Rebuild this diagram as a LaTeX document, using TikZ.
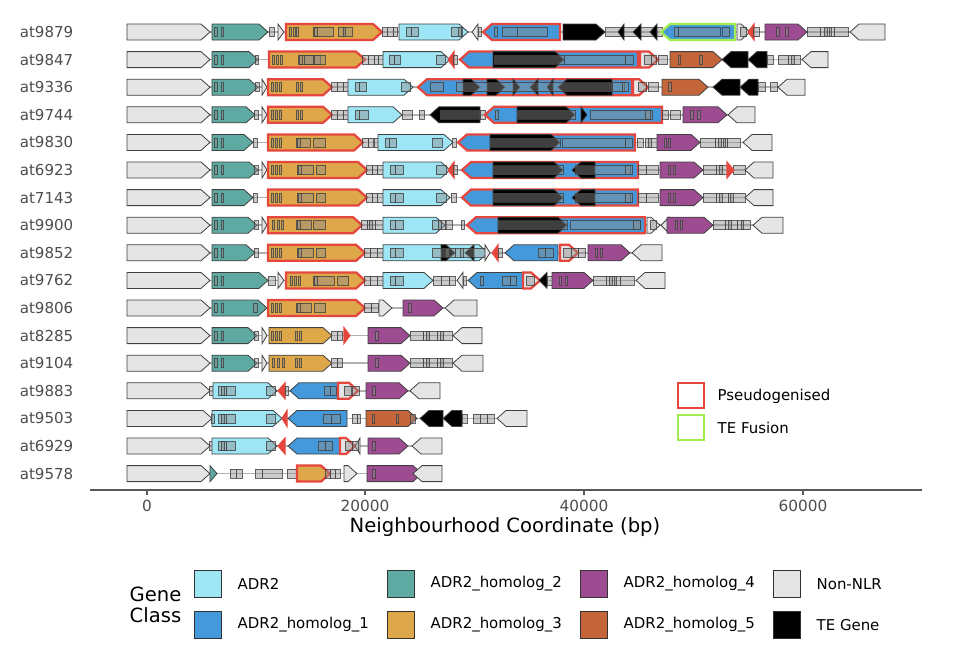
\documentclass[tikz,border=0pt]{standalone}
\usepackage{fontspec}
\setmainfont{DejaVu Sans}
\definecolor{adr}{HTML}{9EE5F5}
\definecolor{hA}{HTML}{4399DA}
\definecolor{hB}{HTML}{5EA9A2}
\definecolor{hC}{HTML}{DDA74A}
\definecolor{hD}{HTML}{9E4C91}
\definecolor{hE}{HTML}{C4663A}
\definecolor{nn}{HTML}{E5E5E5}
\definecolor{pred}{HTML}{E5473E}
\definecolor{tgreen}{HTML}{A3EC50}
\definecolor{axgrey}{HTML}{4D4D4D}
\tikzset{
 gene/.style={draw=black!75, line width=0.6pt, line join=miter},
 pseudo/.style={draw=pred, line width=1.7pt},
 tefus/.style={draw=tgreen, line width=1.7pt},
 tiny/.style={fill=pred, draw=pred, line width=0.8pt},
 te/.style={fill=black},
 dom/.style={draw=black!75, draw opacity=0.8, fill=black!45, fill opacity=0.45, line width=0.45pt},
 link/.style={draw=black!30, line width=1.1pt},
 rowlab/.style={anchor=east, text=axgrey, font=\fontsize{11.3}{13}\selectfont},
 ticklab/.style={text=axgrey, font=\fontsize{11.5}{13}\selectfont},
 legtxt/.style={anchor=west, text=black, font=\fontsize{11.2}{13}\selectfont},
 legbox/.style={draw=black!80, line width=0.6pt},
}
\newcommand\gR[3]{\pgfmathsetmacro\ghd{min(9,#2-#1)}\draw[gene,#3] (#1,\ry-8) -- ({#2-\ghd},\ry-8) -- (#2,\ry) -- ({#2-\ghd},\ry+8) -- (#1,\ry+8) -- cycle;}
\newcommand\gL[3]{\pgfmathsetmacro\ghd{min(9,#2-#1)}\draw[gene,#3] (#2,\ry-8) -- ({#1+\ghd},\ry-8) -- (#1,\ry) -- ({#1+\ghd},\ry+8) -- (#2,\ry+8) -- cycle;}
\newcommand\gdom[2]{\draw[dom] (#1,\ry-4.5) rectangle (#2,\ry+4.5);}
\newcommand\glink[2]{\draw[link] (#1,\ry) -- (#2,\ry);}
\newcommand\hCbars{\gdom{271}{273}\gdom{275}{277}\gdom{279}{281}}
\newcommand\hBdoms[1]{\gdom{214}{217}\gdom{221}{223}}
\begin{document}
\begin{tikzpicture}[x=0.75pt,y=-0.75pt]
\useasboundingbox (0,0) rectangle (958,658);
% ---------------- row 0 at9879
\def\ry{32}
\node[rowlab] (l0) at (78,\ry) {at9879};
\glink{127}{885}
\gR{127}{210}{fill=nn}
\gR{212}{268}{fill=hB}\hBdoms{}
\gdom{269}{274}
\gR{278}{284}{fill=nn}
\gR{286}{382}{fill=hC,pseudo}
\gdom{289}{291}\gdom{293}{295}\gdom{296}{298}\gdom{313}{333}\gdom{314}{317}\gdom{338}{352}\gdom{343}{345}
\gdom{382}{387}\gdom{387}{393}\gdom{393}{397}
\gR{399}{468}{fill=adr}
\gdom{406}{411}\gdom{411}{418}\gdom{451}{462}\gdom{458}{461}
\gL{472}{478}{fill=nn}
\gdom{478}{481}
\gL{483}{560}{fill=hA,pseudo}
\gdom{494}{497}\gdom{502}{517}\gdom{517}{547}
\gR{563}{605}{te}
\gdom{605}{662}
\gL{618}{624}{te}\gL{633}{641}{te}\gL{650}{657}{te}
\gL{661}{735}{fill=hA,tefus}
\gdom{674}{678}\gdom{678}{720}\gdom{722}{729}
\gR{737}{750}{fill=nn}\gdom{740}{746}
\gL{748}{754}{tiny}
\gdom{753}{759}
\gR{765}{807}{fill=hD}\gdom{776}{779}\gdom{785}{788}
\gdom{807}{820}\gdom{820}{834}\gdom{834}{848}\gdom{824}{827}\gdom{829}{831}
\gL{850}{885}{fill=nn}
% ---------------- row 1 at9847
\def\ry{59.6}
\node[rowlab] (l1) at (78,\ry) {at9847};
\glink{127}{828}
\gR{127}{210}{fill=nn}
\gR{212}{258}{fill=hB}\hBdoms{}\gdom{255}{258}
\gR{269}{365}{fill=hC,pseudo}
\gdom{272}{274}\gdom{276}{278}\gdom{280}{282}\gdom{298}{320}\gdom{299}{302}\gdom{304}{313}\gdom{314}{325}\gdom{362}{368}
\gdom{368}{374}\gdom{374}{378}\gdom{378}{383}
\gR{383}{450}{fill=adr}
\gdom{389}{394}\gdom{394}{400}\gdom{436}{445}
\gL{448}{454}{tiny}
\gdom{453}{457}
\gL{460}{638}{fill=hA,pseudo}
\gR{493}{564}{te}
\gdom{494}{564}\gdom{564}{625}\gdom{625}{633}
\gR{640}{658}{fill=nn,pseudo}\gdom{644}{651}\gdom{651}{656}
\gdom{658}{667}
\gR{670}{722}{fill=hE}\gdom{678}{680}\gdom{699}{702}
\gL{722}{748}{te}\gL{748}{767}{te}
\gdom{767}{773}\gdom{778}{788}\gdom{788}{800}\gdom{791}{794}
\gL{802}{828}{fill=nn}
% ---------------- row 2 at9336
\def\ry{87.2}
\node[rowlab] (l2) at (78,\ry) {at9336};
\glink{127}{805}
\gR{127}{210}{fill=nn}
\gR{212}{258}{fill=hB}\hBdoms{}\gdom{255}{259}
\gR{262}{267}{fill=nn}
\gR{268}{332}{fill=hC,pseudo}
\hCbars\gdom{296}{298}\gdom{300}{302}
\gdom{331}{337}\gdom{337}{343}\gdom{343}{348}
\gR{348}{413}{fill=adr}
\gdom{355}{359}\gdom{359}{366}\gdom{401}{410}
\gL{418}{632}{fill=hA,pseudo}
\gdom{430}{443}
\gR{463}{480}{te}\gR{487}{505}{te}\gR{513}{520}{te}\gL{530}{538}{te}\gL{547}{553}{te}\gL{558}{612}{te}
\gdom{456}{612}\gdom{612}{624}\gdom{622}{628}
\gR{633}{648}{fill=nn,pseudo}\gdom{638}{646}
\gdom{648}{658}
\gR{662}{708}{fill=hE}\gdom{668}{671}
\gL{713}{740}{te}\gL{740}{758}{te}
\gdom{758}{765}\gdom{770}{777}
\gL{778}{805}{fill=nn}
% ---------------- row 3 at9744
\def\ry{114.8}
\node[rowlab] (l3) at (78,\ry) {at9744};
\glink{127}{755}
\gR{127}{210}{fill=nn}
\gR{212}{255}{fill=hB}\hBdoms{}\gdom{254}{258}
\gR{262}{267}{fill=nn}
\gR{268}{332}{fill=hC,pseudo}
\hCbars\gdom{296}{298}\gdom{300}{302}
\gdom{331}{337}\gdom{337}{343}\gdom{343}{348}
\gR{348}{402}{fill=adr}
\gdom{355}{359}\gdom{359}{368}
\gdom{402}{412}\gdom{419}{424}
\gL{430}{480}{te}\gdom{440}{480}
\gdom{480}{485}
\gL{485}{662}{fill=hA,pseudo}
\gdom{495}{498}
\gR{517}{575}{te}\gdom{517}{575}
\gR{581}{587}{te}
\gdom{590}{652}\gdom{645}{650}
\gdom{662}{668}\gdom{670}{680}
\gR{683}{727}{fill=hD}\gdom{690}{693}\gdom{697}{700}
\gL{728}{755}{fill=nn}
% ---------------- row 4 at9830
\def\ry{142.4}
\node[rowlab] (l4) at (78,\ry) {at9830};
\glink{127}{772}
\gR{127}{210}{fill=nn}
\gR{212}{253}{fill=hB}\hBdoms{}\gdom{253}{257}
\gR{268}{363}{fill=hC,pseudo}
\hCbars\gdom{296}{310}\gdom{297}{300}\gdom{313}{325}
\gdom{362}{368}\gdom{368}{373}\gdom{374}{378}
\gR{378}{453}{fill=adr}
\gdom{385}{389}\gdom{389}{396}\gdom{432}{442}
\gdom{452}{456}
\gL{458}{635}{fill=hA,pseudo}
\gR{490}{560}{te}\gdom{490}{560}\gdom{562}{625}\gdom{625}{632}
\gdom{637}{643}\gdom{645}{657}\gdom{648}{651}
\gR{657}{700}{fill=hD}\gdom{664}{666}\gdom{668}{670}
\gdom{700}{715}\gdom{715}{727}\gdom{727}{740}\gdom{718}{721}\gdom{723}{725}
\gL{743}{772}{fill=nn}
% ---------------- row 5 at6923
\def\ry{170}
\node[rowlab] (l5) at (78,\ry) {at6923};
\glink{127}{773}
\gR{127}{210}{fill=nn}
\gR{212}{258}{fill=hB}\hBdoms{}\gdom{254}{258}
\gR{262}{267}{fill=nn}
\gR{268}{367}{fill=hC,pseudo}
\hCbars\gdom{297}{313}\gdom{298}{301}\gdom{316}{325}
\gdom{366}{372}\gdom{372}{377}\gdom{377}{383}
\gR{383}{450}{fill=adr}
\gdom{390}{395}\gdom{395}{403}\gdom{436}{446}
\gL{448}{454}{tiny}
\gdom{453}{457}
\gL{462}{638}{fill=hA,pseudo}
\gR{493}{563}{te}\gdom{493}{563}
\gL{572}{595}{te}\gdom{575}{630}\gdom{625}{632}
\gdom{638}{646}\gdom{646}{658}
\gR{660}{703}{fill=hD}\gdom{668}{670}\gdom{673}{675}
\gdom{703}{716}\gdom{716}{728}\gdom{733}{745}\gdom{719}{722}
\gR{727}{734}{tiny}
\gL{745}{773}{fill=nn}
% ---------------- row 6 at7143
\def\ry{197.6}
\node[rowlab] (l6) at (78,\ry) {at7143};
\glink{127}{773}
\gR{127}{210}{fill=nn}
\gR{212}{253}{fill=hB}\hBdoms{}\gdom{253}{257}
\gR{268}{367}{fill=hC,pseudo}
\hCbars\gdom{297}{313}\gdom{298}{301}\gdom{316}{325}
\gdom{366}{372}\gdom{372}{377}\gdom{377}{383}
\gR{383}{450}{fill=adr}
\gdom{390}{395}\gdom{395}{403}\gdom{436}{446}
\gdom{451}{456}
\gL{462}{638}{fill=hA,pseudo}
\gR{493}{563}{te}\gdom{493}{563}
\gL{572}{595}{te}\gdom{575}{630}\gdom{625}{632}
\gdom{638}{646}\gdom{646}{658}
\gR{660}{703}{fill=hD}\gdom{668}{670}\gdom{673}{675}
\gdom{703}{716}\gdom{716}{728}\gdom{728}{745}\gdom{719}{722}\gdom{730}{733}
\gL{745}{773}{fill=nn}
% ---------------- row 7 at9900
\def\ry{225.2}
\node[rowlab] (l7) at (78,\ry) {at9900};
\glink{127}{783}
\gR{127}{210}{fill=nn}
\gR{212}{257}{fill=hB}\hBdoms{}\gdom{254}{258}
\gR{262}{267}{fill=nn}
\gR{268}{362}{fill=hC,pseudo}
\gdom{272}{274}\gdom{277}{279}\gdom{281}{283}\gdom{296}{311}\gdom{297}{300}\gdom{313}{325}
\gdom{361}{367}\gdom{367}{375}\gdom{375}{383}\gdom{369}{372}
\gR{383}{445}{fill=adr}
\gdom{390}{395}\gdom{395}{403}\gdom{432}{446}\gdom{438}{441}
\gdom{445}{452}\gdom{461}{464}
\gL{467}{645}{fill=hA,pseudo}
\gR{498}{567}{te}\gdom{498}{567}\gdom{570}{640}\gdom{633}{640}
\gR{647}{660}{fill=nn}\gdom{650}{656}
\gL{661}{669}{fill=nn}
\gR{667}{713}{fill=hD}\gdom{675}{677}\gdom{680}{682}
\gdom{713}{725}\gdom{725}{737}\gdom{737}{750}\gdom{728}{731}\gdom{741}{743}
\gL{753}{783}{fill=nn}
% ---------------- row 8 at9852
\def\ry{252.8}
\node[rowlab] (l8) at (78,\ry) {at9852};
\glink{127}{662}
\gR{127}{210}{fill=nn}
\gR{212}{255}{fill=hB}\hBdoms{}\gdom{254}{258}
\gR{268}{365}{fill=hC,pseudo}
\hCbars\gdom{297}{313}\gdom{298}{301}\gdom{316}{325}
\gdom{364}{370}\gdom{370}{377}\gdom{377}{383}
\gR{383}{488}{fill=adr}
\gdom{390}{395}\gdom{395}{403}
\gR{441}{455}{te}\gL{465}{474}{te}
\gdom{432}{455}\gdom{455}{470}\gdom{470}{485}\gdom{445}{449}\gdom{460}{463}
\gR{485}{490}{fill=nn}
\gL{492}{498}{tiny}
\gdom{498}{502}
\gL{505}{558}{fill=hA}
\gdom{538}{545}\gdom{545}{553}
\gR{560}{578}{fill=nn,pseudo}\gdom{563}{571}\gdom{571}{578}
\gdom{578}{585}
\gR{588}{630}{fill=hD}\gdom{595}{597}\gdom{600}{602}
\gL{632}{662}{fill=nn}
% ---------------- row 9 at9762
\def\ry{280.4}
\node[rowlab] (l9) at (78,\ry) {at9762};
\glink{127}{665}
\gR{127}{210}{fill=nn}
\gR{212}{268}{fill=hB}\hBdoms{}
\gdom{268}{275}
\gR{278}{284}{fill=nn}
\gR{286}{365}{fill=hC,pseudo}
\gdom{290}{292}\gdom{294}{296}\gdom{298}{300}\gdom{313}{334}\gdom{314}{317}\gdom{337}{348}
\gdom{364}{370}\gdom{370}{377}\gdom{377}{383}
\gR{383}{433}{fill=adr}
\gdom{390}{395}\gdom{395}{403}
\gdom{433}{441}\gdom{441}{449}\gdom{449}{455}
\gL{457}{463}{fill=nn}
\gdom{463}{466}
\gL{468}{523}{fill=hA}
\gdom{480}{483}\gdom{502}{510}\gdom{510}{516}
\gR{523}{540}{fill=nn,pseudo}\gdom{526}{534}
\gL{539}{547}{te}
\gdom{547}{553}
\gR{552}{593}{fill=hD}\gdom{559}{561}\gdom{565}{567}
\gdom{593}{606}\gdom{606}{620}\gdom{620}{634}\gdom{609}{612}\gdom{614}{616}
\gL{636}{665}{fill=nn}
% ---------------- row 10 at9806
\def\ry{308}
\node[rowlab] (l10) at (78,\ry) {at9806};
\glink{127}{477}
\gR{127}{210}{fill=nn}
\gR{212}{267}{fill=hB}\hBdoms{}\gdom{253}{257}
\gR{268}{365}{fill=hC,pseudo}
\hCbars\gdom{296}{311}\gdom{297}{300}\gdom{314}{325}
\gdom{364}{371}\gdom{371}{378}
\gR{379}{392}{fill=nn}
\gR{403}{443}{fill=hD}\gdom{408}{411}
\gL{445}{477}{fill=nn}
% ---------------- row 11 at8285
\def\ry{335.6}
\node[rowlab] (l11) at (78,\ry) {at8285};
\glink{127}{482}
\gR{127}{210}{fill=nn}
\gR{212}{257}{fill=hB}\hBdoms{}\gdom{254}{258}
\gR{262}{267}{fill=nn}
\gR{269}{332}{fill=hC}
\hCbars\gdom{295}{297}\gdom{299}{301}
\gdom{331}{337}\gdom{337}{342}
\gR{344}{350}{tiny}
\gR{368}{410}{fill=hD}\gdom{375}{378}
\gdom{410}{423}\gdom{423}{437}\gdom{437}{452}\gdom{426}{429}\gdom{440}{443}
\gL{453}{482}{fill=nn}
% ---------------- row 12 at9104
\def\ry{363.2}
\node[rowlab] (l12) at (78,\ry) {at9104};
\glink{127}{483}
\gR{127}{210}{fill=nn}
\gR{212}{257}{fill=hB}\hBdoms{}\gdom{254}{258}
\gR{262}{267}{fill=nn}
\gR{269}{332}{fill=hC}
\gdom{272}{274}\gdom{277}{279}\gdom{282}{284}\gdom{295}{297}\gdom{299}{301}
\gdom{331}{337}\gdom{337}{342}
\gR{368}{410}{fill=hD}\gdom{375}{378}
\gdom{410}{423}\gdom{423}{437}\gdom{437}{452}\gdom{426}{429}\gdom{440}{443}
\gL{453}{483}{fill=nn}
% ---------------- row 13 at9883
\def\ry{390.8}
\node[rowlab] (l13) at (78,\ry) {at9883};
\glink{127}{440}
\gR{127}{210}{fill=nn}
\gdom{209}{214}
\gR{213}{277}{fill=adr}
\gdom{218}{226}\gdom{226}{235}\gdom{221}{224}\gdom{266}{275}
\gL{278}{285}{tiny}
\gdom{285}{288}
\gL{290}{338}{fill=hA}
\gdom{324}{330}\gdom{330}{336}
\gR{338}{358}{fill=nn,pseudo}\gdom{344}{351}\gdom{352}{359}
\gR{366}{408}{fill=hD}\gdom{372}{375}
\gL{410}{440}{fill=nn}
% ---------------- row 14 at9503
\def\ry{418.4}
\node[rowlab] (l14) at (78,\ry) {at9503};
\glink{127}{527}
\gR{127}{212}{fill=nn}
\gR{212}{282}{fill=adr}
\gdom{211}{214}\gdom{218}{226}\gdom{226}{235}\gdom{221}{224}\gdom{266}{275}
\gL{282}{287}{tiny}
\gL{288}{347}{fill=hA}
\gdom{323}{331}\gdom{331}{340}
\gdom{352}{357}\gdom{357}{360}
\gR{366}{417}{fill=hE}\gdom{372}{374}\gdom{396}{398}\gdom{410}{415}
\gL{420}{443}{te}\gL{443}{462}{te}
\gdom{462}{467}\gdom{473}{480}\gdom{480}{487}\gdom{487}{494}
\gL{497}{527}{fill=nn}
% ---------------- row 15 at6929
\def\ry{446}
\node[rowlab] (l15) at (78,\ry) {at6929};
\glink{127}{442}
\gR{127}{210}{fill=nn}
\gdom{209}{214}
\gR{212}{277}{fill=adr}
\gdom{218}{226}\gdom{226}{235}\gdom{221}{224}\gdom{266}{275}
\gL{278}{285}{tiny}
\gL{288}{340}{fill=hA}
\gdom{318}{325}\gdom{325}{332}
\gR{340}{355}{fill=nn,pseudo}\gdom{345}{352}
\gL{355}{360}{fill=nn}\gdom{352}{358}
\gR{368}{408}{fill=hD}\gdom{372}{375}
\gL{412}{442}{fill=nn}
% ---------------- row 16 at9578
\def\ry{473.6}
\node[rowlab] (l16) at (78,\ry) {at9578};
\glink{127}{442}
\gR{127}{210}{fill=nn}
\gR{210}{217}{fill=hB}
\gdom{230}{236}\gdom{236}{242}\gdom{255}{262}\gdom{262}{282}\gdom{287}{297}
\gR{297}{330}{fill=hC,pseudo}\gdom{325}{330}
\gdom{330}{335}\gdom{335}{340}
\gR{344}{357}{fill=nn}
\gR{367}{422}{fill=hD}\gdom{372}{375}
\gL{413}{442}{fill=nn}
% ---------------- axis
\draw[draw=black!65, line width=1.5pt] (90,490) coordinate (axL) -- (922,490) coordinate (axR);
\foreach \xx/\lab/\nm in {147/0/t0,365/20000/t1,584/40000/t2,803/60000/t3}{
  \draw[draw=black!65, line width=0.8pt] (\xx,490) -- (\xx,495);
  \node[ticklab] (\nm) at (\xx,506) {\lab};
}
\node[font=\fontsize{14.7}{17}\selectfont] (xtitle) at (505,527) {Neighbourhood Coordinate (bp)};
% ---------------- inset legend
\draw[draw=pred, line width=2pt] (678,383) rectangle (704,408);
\node[legtxt] (lp) at (713,396) {Pseudogenised};
\draw[draw=tgreen, line width=2pt] (678,415) rectangle (704,440);
\node[legtxt] (lt) at (713,428) {TE Fusion};
% ---------------- bottom legend
\node[anchor=west, align=left, font=\fontsize{14.7}{15.5}\selectfont] (gc) at (125,605) {Gene\\Class};
\foreach \bx/\by/\col/\lab/\nm in {
  194/570/adr/ADR2/a1, 194/611/hA/ADR2\_homolog\_1/a2,
  387/570/hB/ADR2\_homolog\_2/a3, 387/611/hC/ADR2\_homolog\_3/a4,
  580/570/hD/ADR2\_homolog\_4/a5, 580/611/hE/ADR2\_homolog\_5/a6,
  773/570/nn/Non-NLR/a7, 773/611/black/TE Gene/a8}{
  \draw[legbox, fill=\col] (\bx,\by) rectangle ++(27,27);
  \node[legtxt] (\nm) at (\bx+39,\by+14) {\lab};
}
\end{tikzpicture}
\end{document}
